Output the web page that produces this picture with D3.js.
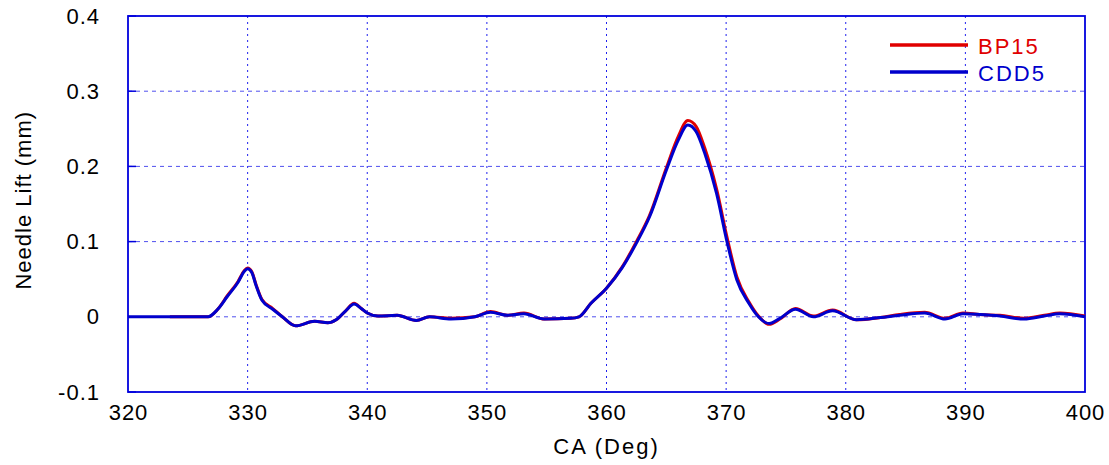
<!DOCTYPE html>
<html>
<head>
<meta charset="utf-8">
<script src="https://cdn.jsdelivr.net/npm/d3@7"></script>
<style>
  body { margin: 0; background: #fff; }
  text { font-family: "Liberation Sans", Arial, sans-serif; }
</style>
</head>
<body>
<div id="chart"></div>
<script>
(function() {
  // crank angle (deg)
  var caDeg = [320, 323.5, 326.7, 327.5, 328.3, 329.2, 329.7, 330.0, 330.35, 330.7, 331.2, 332.1,
    332.9, 334.0, 335.6, 336.7, 337.4, 338.2, 338.9, 339.5, 340.0, 340.9, 342.5, 344.1, 345.2,
    347.0, 349.0, 350.3, 351.7, 353.1, 354.8, 357.0, 357.7, 358.7, 360.0, 361.3, 362.5, 363.6,
    365.0, 366.0, 366.8, 367.5, 368.2, 369.2, 370.1, 370.9, 371.9, 372.7, 373.6, 374.5, 375.8,
    377.3, 378.9, 380.9, 382.9, 384.5, 386.6, 388.3, 389.8, 391.2, 392.9, 394.9, 396.6, 397.9, 400]

  var bp15 = [null, 0, 0, 0.010, 0.028, 0.047, 0.061, 0.065, 0.060, 0.043, 0.023, 0.011,
    0.000, -0.012, -0.006, -0.008, -0.004, 0.008, 0.018, 0.011, 0.005, 0.001, 0.002, -0.005, 0.000,
    -0.002, 0.000, 0.007, 0.002, 0.005, -0.003, -0.002, 0.000, 0.018, 0.038, 0.066, 0.100, 0.135,
    0.198, 0.240, 0.261, 0.253, 0.225, 0.170, 0.104, 0.053, 0.020, 0.001, -0.010, -0.003, 0.011,
    0.001, 0.009, -0.004, -0.001, 0.003, 0.006, -0.002, 0.005, 0.003, 0.002, -0.002, 0.002, 0.005, 0.001]

  var cdd5 = [0, 0, 0, 0.010, 0.027, 0.046, 0.060, 0.064, 0.059, 0.042, 0.022, 0.010,
    0.000, -0.012, -0.006, -0.008, -0.004, 0.008, 0.017, 0.011, 0.005, 0.001, 0.002, -0.005, 0.000,
    -0.003, 0.000, 0.006, 0.002, 0.004, -0.003, -0.002, 0.000, 0.018, 0.038, 0.065, 0.098, 0.133,
    0.195, 0.235, 0.255, 0.246, 0.218, 0.164, 0.098, 0.049, 0.018, 0.000, -0.009, -0.002, 0.010,
    0.000, 0.008, -0.004, -0.001, 0.002, 0.005, -0.003, 0.004, 0.003, 0.001, -0.003, 0.001, 0.004, 0.000]

  var xTicks = [320, 330, 340, 350, 360, 370, 380, 390, 400]
  var yTicks = [-0.1, 0, 0.1, 0.2, 0.3, 0.4]

  var seriesNames = ["BP15", "CDD5"]
  var seriesColors = ["#e00000", "#0000cc"]

  var margin = { top: 16, left: 128, right: 24, bottom: 73 },
    width = 1109 - margin.left - margin.right,
    height = 465 - margin.top - margin.bottom

  var svg = d3.select("#chart")
    .append("svg")
    .attr("width", 1109)
    .attr("height", 465)
    .append("g")
    .attr("transform", "translate(" + margin.left + "," + margin.top + ")")

  var x = d3.scaleLinear().domain([320, 400]).range([0, width])
  var y = d3.scaleLinear().domain([-0.1, 0.4]).range([height, 0])

  // grid
  svg.selectAll(".vgrid")
    .data(xTicks.slice(1, -1))
    .enter().append("line")
    .attr("class", "vgrid")
    .attr("x1", function(d) { return x(d) })
    .attr("x2", function(d) { return x(d) })
    .attr("y1", 0)
    .attr("y2", height)
    .attr("stroke", "#2020ee")
    .attr("stroke-width", 1)
    .attr("stroke-dasharray", "2,4")

  svg.selectAll(".hgrid")
    .data(yTicks.slice(1, -1))
    .enter().append("line")
    .attr("class", "hgrid")
    .attr("x1", 0)
    .attr("x2", width)
    .attr("y1", function(d) { return y(d) })
    .attr("y2", function(d) { return y(d) })
    .attr("stroke", "#5050ee")
    .attr("stroke-width", 1)
    .attr("stroke-dasharray", "4,4")

  // axes
  var xAxis = d3.axisBottom(x).tickValues(xTicks).tickSize(0).tickPadding(12)
  svg.append("g")
    .attr("class", "axis x-axis")
    .attr("transform", "translate(0," + height + ")")
    .call(xAxis)

  // plain hyphen for negatives, like the original
  var yAxis = d3.axisLeft(y).tickValues(yTicks).tickSize(0).tickPadding(28)
    .tickFormat(function(d) { return d === 0 ? "0" : d3.format(".1f")(d).replace("\u2212", "-") })
  svg.append("g")
    .attr("class", "axis y-axis")
    .call(yAxis)

  svg.selectAll(".axis .domain").remove()
  svg.selectAll(".axis text")
    .attr("font-size", "22px")
    .attr("fill", "#000")
    .style("letter-spacing", "1px")

  // small ticks on left at each y tick
  svg.selectAll(".ytick")
    .data(yTicks)
    .enter().append("line")
    .attr("x1", 0).attr("x2", 8)
    .attr("y1", function(d) { return y(d) })
    .attr("y2", function(d) { return y(d) })
    .attr("stroke", "#0000dd")
    .attr("stroke-width", 1.5)

  // frame
  svg.append("rect")
    .attr("x", 0).attr("y", 0)
    .attr("width", width).attr("height", height)
    .attr("fill", "none")
    .attr("stroke", "#0000dd")
    .attr("stroke-width", 1.8)

  // lines
  var series = [bp15, cdd5]
  series.forEach(function(vals, i) {
    var pts = caDeg.map(function(c, j) { return [c, vals[j]] })
    var line = d3.line()
      .defined(function(d) { return d[1] !== null })
      .x(function(d) { return x(d[0]) })
      .y(function(d) { return y(d[1]) })
      .curve(d3.curveMonotoneX)
    svg.append("path")
      .datum(pts)
      .attr("d", line)
      .attr("fill", "none")
      .attr("stroke", seriesColors[i])
      .attr("stroke-width", 3)
      .attr("stroke-linejoin", "round")
  })

  // legend
  var legend = svg.selectAll(".legend")
    .data(seriesNames)
    .enter().append("g")
    .attr("class", "legend")
    .attr("transform", function(d, i) { return "translate(762," + (29 + i * 27) + ")" })

  legend.append("line")
    .attr("x1", 0).attr("x2", 78)
    .attr("y1", 0).attr("y2", 0)
    .attr("stroke", function(d, i) { return seriesColors[i] })
    .attr("stroke-width", 3.5)

  legend.append("text")
    .attr("x", 88)
    .attr("y", 9)
    .attr("font-size", "22px")
    .style("letter-spacing", "2px")
    .attr("fill", function(d, i) { return seriesColors[i] })
    .text(function(d) { return d })

  // axis titles
  svg.append("text")
    .attr("x", x(360))
    .attr("y", height + 62)
    .attr("text-anchor", "middle")
    .attr("font-size", "22px")
    .style("letter-spacing", "2px")
    .text("CA (Deg)")

  svg.append("text")
    .attr("transform", "translate(" + (-97) + "," + y(0.155) + ") rotate(-90)")
    .attr("text-anchor", "middle")
    .attr("font-size", "22px")
    .style("letter-spacing", "1px")
    .text("Needle Lift (mm)")
})();
</script>
</body>
</html>
